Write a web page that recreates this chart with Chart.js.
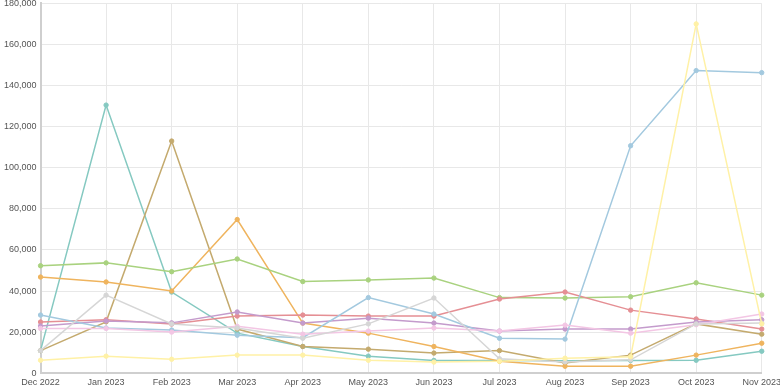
<!DOCTYPE html>
<html>
<head>
<meta charset="utf-8">
<script src="https://cdn.jsdelivr.net/npm/chart.js@4"></script>
<style>
  html, body { margin: 0; padding: 0; background: #fff; overflow: hidden; }
  /* a bit bigger than the window so the plot fills it like the original */
  .chartContainer { width: 785px; height: 398px; margin-top: -6px; }
</style>
</head>
<body>
<div class="chartContainer">
  <canvas id="myChart"></canvas>
</div>
<script>
// months on the x axis
const months = ['Dec 2022', 'Jan 2023', 'Feb 2023', 'Mar 2023', 'Apr 2023', 'May 2023',
                'Jun 2023', 'Jul 2023', 'Aug 2023', 'Sep 2023', 'Oct 2023', 'Nov 2023'];

// values, one array per line
const teal      = [11000, 130500, 39500, 19500, 13000, 8300, 6200, 6200, 6000, 6200, 6300, 10700];
const olive     = [11000, 25000, 113000, 21500, 13000, 11700, 9800, 11000, 5000, 8800, 24000, 19000];
const orange    = [46800, 44400, 40000, 74800, 24400, 19500, 13000, 5800, 3400, 3400, 8800, 14600];
const green     = [52300, 53700, 49400, 55600, 44600, 45400, 46300, 36800, 36600, 37200, 44000, 38000];
const red       = [24900, 26000, 23900, 27800, 28300, 27800, 27800, 36100, 39500, 30700, 26400, 21500];
const purple    = [23000, 25400, 24500, 29800, 24400, 26800, 24400, 20500, 21500, 21500, 24900, 26000];
const lightBlue = [28300, 22000, 21000, 18500, 17300, 36800, 28800, 17000, 16600, 110700, 147300, 146300];
const pink      = [21800, 21800, 20000, 22800, 19000, 20500, 22000, 20500, 23400, 19500, 23600, 28800];
const grey      = [11000, 38000, 24000, 22000, 17000, 24000, 36600, 7000, 5500, 6500, 24000, 24400];
const yellow    = [6300, 8300, 6800, 8800, 8800, 6300, 5400, 5800, 7300, 8000, 170000, 24000];

const yMax = 180000;
const yStep = 20000;

function line(data, color) {
  return {
    data: data,
    borderColor: color,
    backgroundColor: color,
    borderWidth: 1.5,
    pointRadius: 2.2,
    pointBorderWidth: 1,
    tension: 0,
    fill: false
  };
}

const ctx = document.getElementById('myChart');

new Chart(ctx, {
  type: 'line',
  data: {
    labels: months,
    datasets: [
      line(yellow, '#fff1a6'),
      line(grey, '#d6d6d6'),
      line(pink, '#f3c6e4'),
      line(lightBlue, '#a3c9df'),
      line(purple, '#c49bcc'),
      line(red, '#e58f94'),
      line(green, '#a9d27f'),
      line(orange, '#efb45e'),
      line(olive, '#c4aa6e'),
      line(teal, '#85c9c1')
    ]
  },
  options: {
    responsive: true,
    maintainAspectRatio: false,
    animation: false,
    layout: { padding: 0 },
    plugins: {
      legend: { display: false },
      tooltip: { enabled: false }
    },
    scales: {
      x: {
        offset: false,
        grid: { color: '#e8e8e8', drawTicks: false },
        border: { color: '#cfcfcf', width: 2 },
        ticks: {
          color: '#555',
          font: { family: 'Liberation Sans, Arial, sans-serif', size: 9 },
          padding: 4,
          maxRotation: 0,
          autoSkip: false
        }
      },
      y: {
        min: 0,
        max: yMax,
        grid: { color: '#e8e8e8', drawTicks: false },
        border: { color: '#cfcfcf', width: 2 },
        ticks: {
          stepSize: yStep,
          color: '#555',
          font: { family: 'Liberation Sans, Arial, sans-serif', size: 9 },
          padding: 4
        }
      }
    }
  }
});
</script>
</body>
</html>
